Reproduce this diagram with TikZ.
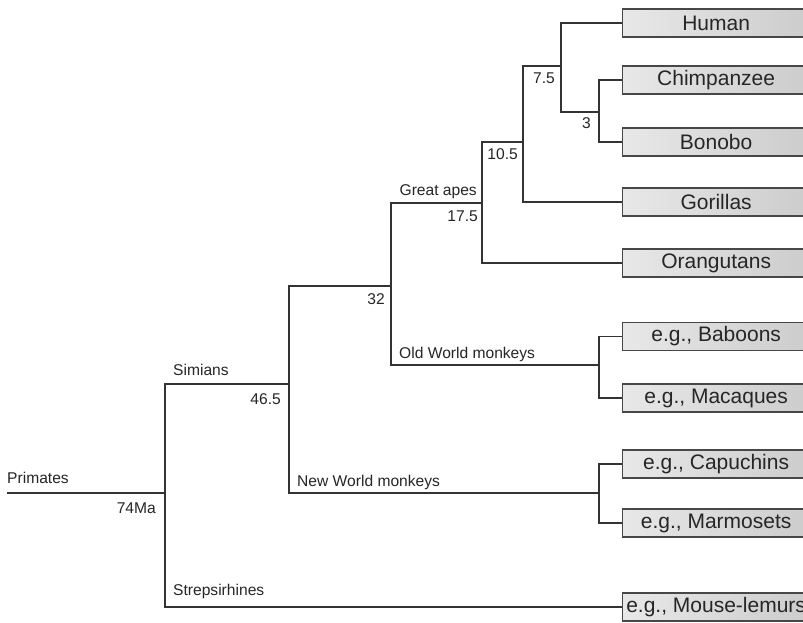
\documentclass[tikz,border=0pt]{standalone}
\usepackage{fontspec}
\setmainfont{Liberation Sans}
\begin{document}
\begin{tikzpicture}[x=1pt,y=-1pt,
  br/.style={draw=black!80,line width=1.2pt,line join=miter},
  lab/.style={inner sep=0pt,font=\fontsize{15.6}{18}\selectfont,text=black!85},
  leaf/.style={anchor=west,draw=black!72,line width=1.3pt,left color=black!9,right color=black!20,
    minimum width=187pt,minimum height=28pt,inner sep=1pt,font=\fontsize{21}{24}\selectfont,text=black!85}]
\clip (0,0) rectangle (803,622);
\fill[white] (0,0) rectangle (803,622);
% leaves
\node[leaf] (human) at (622,23) {Human};
\node[leaf] (chimp) at (622,80) {Chimpanzee};
\node[leaf] (bon) at (622,142) {Bonobo};
\node[leaf] (gor) at (622,202) {Gorillas};
\node[leaf] (orang) at (622,263) {Orangutans};
\node[leaf] (bab) at (622,336.5) {e.g., Baboons};
\node[leaf] (mac) at (622,398) {e.g., Macaques};
\node[leaf] (cap) at (622,464) {e.g., Capuchins};
\node[leaf] (mar) at (622,523) {e.g., Marmosets};
\node[leaf] (mouse) at (622,607) {e.g., Mouse-lemurs};
% junctions
\coordinate (root) at (7,493);
\coordinate (J74) at (165,493);
\coordinate (J46) at (289,384);
\coordinate (J32) at (391,286);
\coordinate (J17) at (482,203);
\coordinate (J10) at (523,142);
\coordinate (J7) at (561,66);
\coordinate (J3) at (599,112);
\coordinate (JOW) at (599,365);
\coordinate (JNW) at (599,493);
% branches
\draw[br] (root) -- (J74);
\draw[br] (J74) |- (J46);
\draw[br] (J74) |- (mouse.west);
\draw[br] (J46) |- (J32);
\draw[br] (J46) |- (JNW);
\draw[br] (J32) |- (J17);
\draw[br] (J32) |- (JOW);
\draw[br] (J17) |- (J10);
\draw[br] (J17) |- (orang.west);
\draw[br] (J10) |- (J7);
\draw[br] (J10) |- (gor.west);
\draw[br] (J7) |- (human.west);
\draw[br] (J7) |- (J3);
\draw[br] (J3) |- (chimp.west);
\draw[br] (J3) |- (bon.west);
\draw[br] (JOW) |- (bab.west);
\draw[br] (JOW) |- (mac.west);
\draw[br] (JNW) |- (cap.west);
\draw[br] (JNW) |- (mar.west);
% labels
\node[lab,anchor=base west] (lprim) at (7,483) {Primates};
\node[lab,anchor=base east] (l74) at (156,513) {74Ma};
\node[lab,anchor=base west] (lsim) at (173,375) {Simians};
\node[lab,anchor=base east] (l46) at (281,404) {46.5};
\node[lab,anchor=base west] (lnw) at (297,486) {New World monkeys};
\node[lab,anchor=base west] (lstr) at (173,595) {Strepsirhines};
\node[lab,anchor=base east] (l32) at (385,304) {32};
\node[lab,anchor=base west] (low) at (399,358) {Old World monkeys};
\node[lab,anchor=base east] (lga) at (477,195) {Great apes};
\node[lab,anchor=base east] (l17) at (478,221) {17.5};
\node[lab,anchor=base east] (l10) at (518,159) {10.5};
\node[lab,anchor=base east] (l7) at (555,83) {7.5};
\node[lab,anchor=base east] (l3) at (591,128) {3};
\end{tikzpicture}
\end{document}
